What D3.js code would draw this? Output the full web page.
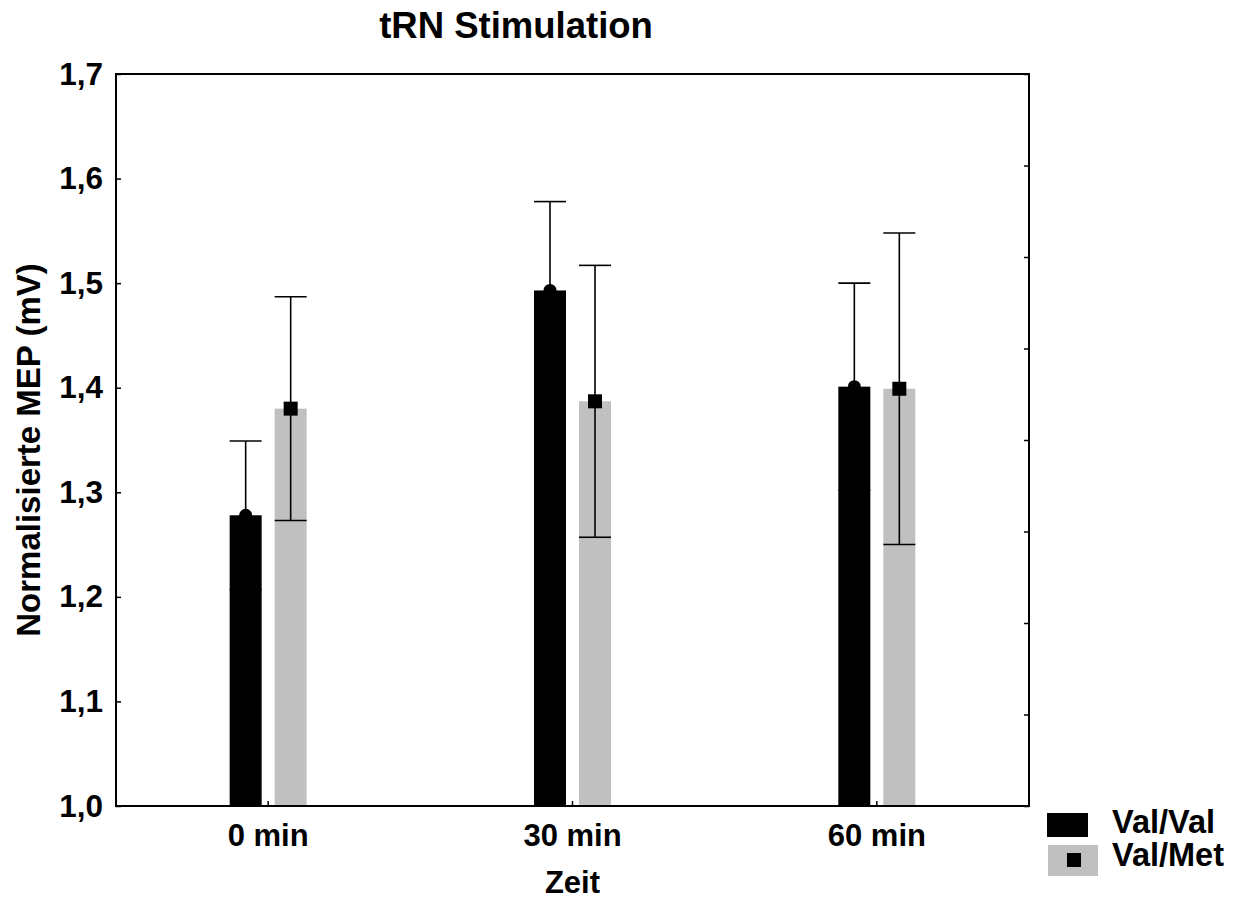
<!DOCTYPE html>
<html><head><meta charset="utf-8">
<script src="https://cdn.jsdelivr.net/npm/d3@7"></script>
<style>body{margin:0;background:#fff}svg{display:block}text{font-family:"Liberation Sans",Arial,sans-serif;font-weight:bold;fill:#000}</style>
</head><body>
<script>
const categories = ["0 min", "30 min", "60 min"];
const seriesNames = ["Val/Val", "Val/Met"];
const valValMean = [1.278, 1.493, 1.401];
const valValErr = [0.071, 0.085, 0.099];
const valMetMean = [1.380, 1.387, 1.399];
const valMetErr = [0.107, 0.130, 0.149];
const yTicks = [1.0, 1.1, 1.2, 1.3, 1.4, 1.5, 1.6, 1.7];
const titleText = "tRN Stimulation";
const xTitle = "Zeit";
const yTitle = "Normalisierte MEP (mV)";

const W = 1236, H = 901;
const L = 116, R = 1029, T = 74, B = 806;
const colors = {"Val/Val": "#000000", "Val/Met": "#c0c0c0"};

const svg = d3.select("body").append("svg").attr("width", W).attr("height", H);

const x0 = d3.scaleBand().domain(categories).range([L, R]).paddingInner(0).paddingOuter(0);
const x1 = d3.scaleBand().domain(seriesNames).range([-38.5, 38.5]).paddingInner(0.289).paddingOuter(0);
const y = d3.scaleLinear().domain([1.0, 1.7]).range([B, T]);
const yR = d3.scaleLinear().domain([0, 8]).range([B, T]);

const fmt = d => d3.format(".1f")(d).replace(".", ",");

const data = [];
categories.forEach((c, i) => {
  data.push({cat: c, s: "Val/Val", m: valValMean[i], e: valValErr[i]});
  data.push({cat: c, s: "Val/Met", m: valMetMean[i], e: valMetErr[i]});
});
const cx = d => x0(d.cat) + x0.bandwidth() / 2 + x1(d.s) + x1.bandwidth() / 2;
const bw = x1.bandwidth();

// bars
svg.selectAll("rect.bar").data(data).enter().append("rect")
  .attr("class", "bar")
  .attr("x", d => cx(d) - bw / 2)
  .attr("width", bw)
  .attr("y", d => y(d.m))
  .attr("height", d => y(1.0) - y(d.m))
  .attr("fill", d => colors[d.s]);

// error bars
const eg = svg.selectAll("g.err").data(data).enter().append("g").attr("class", "err")
  .attr("stroke", "#000").attr("stroke-width", 1.6);
eg.append("line").attr("x1", cx).attr("x2", cx).attr("y1", d => y(d.m - d.e)).attr("y2", d => y(d.m + d.e));
eg.append("line").attr("x1", d => cx(d) - bw / 2).attr("x2", d => cx(d) + bw / 2).attr("y1", d => y(d.m + d.e)).attr("y2", d => y(d.m + d.e));
eg.append("line").attr("x1", d => cx(d) - bw / 2).attr("x2", d => cx(d) + bw / 2).attr("y1", d => y(d.m - d.e)).attr("y2", d => y(d.m - d.e));

// markers
svg.selectAll("circle.mk").data(data.filter(d => d.s === "Val/Val")).enter().append("circle")
  .attr("cx", cx).attr("cy", d => y(d.m)).attr("r", 6.5).attr("fill", "#000");
svg.selectAll("rect.mk").data(data.filter(d => d.s === "Val/Met")).enter().append("rect")
  .attr("x", d => cx(d) - 7).attr("y", d => y(d.m) - 7).attr("width", 14).attr("height", 14).attr("fill", "#000");

// frame
svg.append("rect").attr("x", L).attr("y", T).attr("width", R - L).attr("height", B - T)
  .attr("fill", "none").attr("stroke", "#000").attr("stroke-width", 2);

const fontFam = '"Liberation Sans",Arial,sans-serif';

// left axis
const ya = svg.append("g").attr("transform", `translate(${L},0)`)
  .call(d3.axisLeft(y).tickValues(yTicks).tickFormat(fmt).tickSizeInner(-5).tickSizeOuter(0).tickPadding(13));
ya.select(".domain").remove();
ya.selectAll("line").attr("stroke-width", 1.5);
ya.selectAll("text").style("font-size", "31.5px").style("font-family", fontFam).style("font-weight", "bold");

// right axis (inward ticks)
const yra = svg.append("g").attr("transform", `translate(${R},0)`)
  .call(d3.axisLeft(yR).ticks(8).tickFormat("").tickSizeInner(5).tickSizeOuter(0));
yra.select(".domain").remove();
yra.selectAll("line").attr("stroke-width", 1.5);

// bottom axis
const xa = svg.append("g").attr("transform", `translate(0,${B})`)
  .call(d3.axisBottom(x0).tickSizeInner(-5).tickSizeOuter(0).tickPadding(18));
xa.select(".domain").remove();
xa.selectAll("line").attr("stroke-width", 1.5);
xa.selectAll("text").style("font-size", "31px").style("font-family", fontFam).style("font-weight", "bold");

// titles
svg.append("text").attr("x", 516).attr("y", 38).attr("text-anchor", "middle").style("font-size", "36.5px").text(titleText);
svg.append("text").attr("x", (L + R) / 2).attr("y", 893).attr("text-anchor", "middle").style("font-size", "31px").text(xTitle);
svg.append("text").attr("transform", "translate(40,450) rotate(-90)").attr("text-anchor", "middle").style("font-size", "33px").text(yTitle);

// legend
const lg = svg.append("g");
lg.append("rect").attr("x", 1047).attr("y", 813).attr("width", 41).attr("height", 24).attr("fill", colors["Val/Val"]);
lg.append("rect").attr("x", 1048).attr("y", 845).attr("width", 50).attr("height", 31).attr("fill", colors["Val/Met"]);
lg.append("rect").attr("x", 1067).attr("y", 853).attr("width", 14).attr("height", 14).attr("fill", "#000");
lg.append("text").attr("x", 1112).attr("y", 833).style("font-size", "32.5px").text(seriesNames[0]);
lg.append("text").attr("x", 1112).attr("y", 866).style("font-size", "32.5px").text(seriesNames[1]);
</script>
</body></html>
